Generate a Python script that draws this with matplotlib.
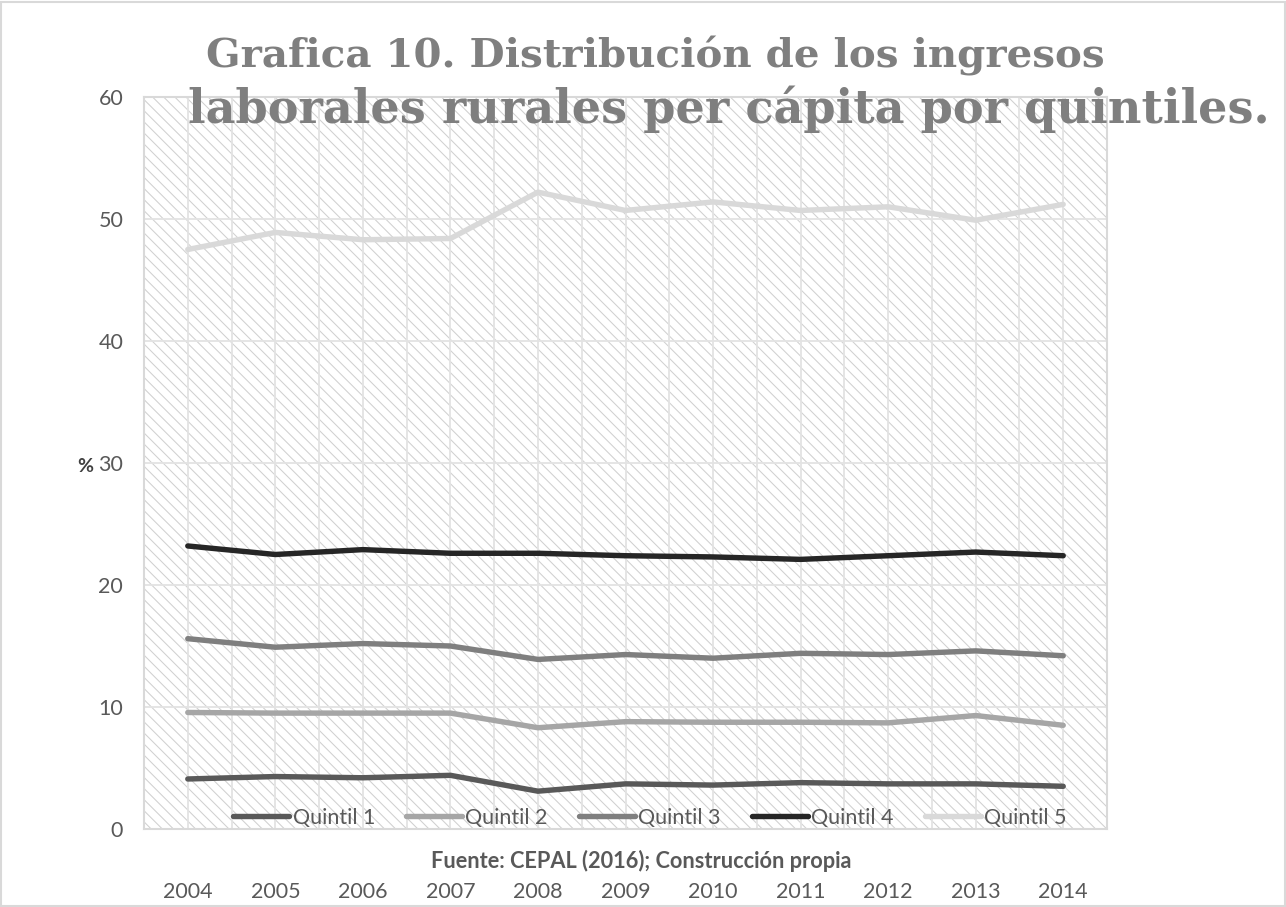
import matplotlib
matplotlib.use('Agg')
import matplotlib.pyplot as plt
from matplotlib.patches import Rectangle
import numpy as np

# ---- data ----
years = ['2004', '2005', '2006', '2007', '2008', '2009', '2010', '2011', '2012', '2013', '2014']
quintil_1 = [4.1, 4.3, 4.2, 4.4, 3.1, 3.7, 3.6, 3.8, 3.7, 3.7, 3.5]
quintil_2 = [9.55, 9.5, 9.5, 9.5, 8.3, 8.8, 8.75, 8.75, 8.7, 9.3, 8.5]
quintil_3 = [15.6, 14.9, 15.2, 15.0, 13.9, 14.3, 14.0, 14.4, 14.3, 14.6, 14.2]
quintil_4 = [23.2, 22.5, 22.9, 22.6, 22.6, 22.4, 22.3, 22.1, 22.4, 22.7, 22.4]
quintil_5 = [47.5, 48.9, 48.3, 48.4, 52.2, 50.7, 51.4, 50.7, 51.0, 49.9, 51.2]
series_names = ['Quintil 1', 'Quintil 2', 'Quintil 3', 'Quintil 4', 'Quintil 5']
series_colors = ['#595959', '#a6a6a6', '#7f7f7f', '#262626', '#d9d9d9']
y_ticks = [0, 10, 20, 30, 40, 50, 60]

title_line1 = 'Grafica 10. Distribución de los ingresos'
title_line2 = 'laborales rurales per cápita por quintiles.'
source_text = 'Fuente: CEPAL (2016); Construcción propia'

# ---- layout ----
W, H = 1286, 907
plt.rcParams['hatch.linewidth'] = 0.75
fig = plt.figure(figsize=(W / 100, H / 100), dpi=100)
fig.patch.set_facecolor('white')
fig.add_artist(Rectangle((0.001, 0.001), 0.998, 0.997, transform=fig.transFigure,
                         fill=False, edgecolor='#d9d9d9', linewidth=1.5))

L, R, T, B = 144, 1107, 97, 829
ax = fig.add_axes([L / W, 1 - B / H, (R - L) / W, (B - T) / H])
ax.set_facecolor('none')

# hatched plot area background
bg = Rectangle((0, 0), 1, 1, transform=ax.transAxes, facecolor='white',
               edgecolor='#d0d0d0', linewidth=0, hatch='\\\\\\', zorder=0.1)
ax.add_patch(bg)

font = 'Lato'
x = np.arange(len(years))
all_series = [quintil_1, quintil_2, quintil_3, quintil_4, quintil_5]
for vals, name, col in zip(all_series, series_names, series_colors):
    ax.plot(x, vals, color=col, linewidth=3.9, label=name, solid_capstyle='round',
            solid_joinstyle='round', zorder=3)

ax.set_xlim(-0.489, 10.45)
ax.set_ylim(0, 60)
ax.set_yticks(y_ticks)
ax.set_xticks(x)
ax.set_xticklabels(years)
ax.set_xticks(np.arange(-0.5, 10.51, 0.5), minor=True)
ax.set_axisbelow(True)
ax.grid(True, axis='y', which='major', color='#e3e3e3', linewidth=1.3, zorder=0.5)
ax.grid(True, axis='x', which='both', color='#e3e3e3', linewidth=1.3, zorder=0.5)
ax.tick_params(axis='both', which='both', length=0)
ax.tick_params(axis='x', which='major', pad=38, labelsize=15.5, labelcolor='#595959')
ax.tick_params(axis='y', which='major', pad=15, labelsize=15.5, labelcolor='#595959')
for lab in ax.get_xticklabels() + ax.get_yticklabels():
    lab.set_fontfamily(font)
for sp in ax.spines.values():
    sp.set_color('#d9d9d9')
    sp.set_linewidth(1.5)

# legend inside bottom of plot
leg = ax.legend(loc='center', bbox_to_anchor=((650 - L) / (R - L), (B - 818) / (B - T)),
                ncol=5, frameon=False, prop={'family': font, 'size': 15.5},
                handlelength=2.6, handletextpad=0.15, columnspacing=1.45,
                borderpad=0, borderaxespad=0)
for t in leg.get_texts():
    t.set_color('#595959')

# y label "%"
fig.text(85 / W, 1 - 466 / H, '%', ha='center', va='center', fontsize=14,
         fontweight='bold', color='#404040', family=font)

renderer = fig.canvas.get_renderer()

# source text (fitted to measured width)
src = fig.text(641 / W, 1 - 861 / H, source_text, ha='center', va='center', fontsize=15,
               fontweight='bold', color='#595959', family=font)
sw = src.get_window_extent(renderer).width
src.set_fontsize(15 * 423 / sw)

# title lines, each fitted to its measured width
title_font = 'DejaVu Serif'
def fit_title(xc, yb, s, target_w):
    t = fig.text(xc / W, 1 - yb / H, s, ha='center', va='baseline', fontsize=30,
                 fontweight='bold', color='#7f7f7f', family=title_font)
    w = t.get_window_extent(renderer).width
    t.set_fontsize(30 * target_w / w)
    return t

fit_title(655, 68, title_line1, 900)
fit_title(729, 123, title_line2, 1082)

fig.savefig('out.png', dpi=100, facecolor='white')
